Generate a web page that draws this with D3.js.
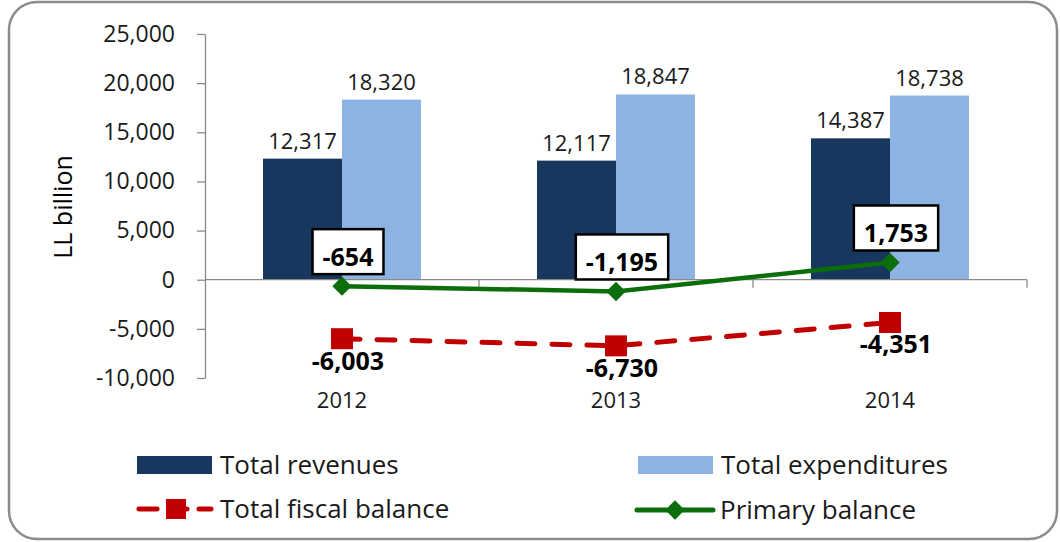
<!DOCTYPE html>
<html lang="en">
<head>
    <meta charset="UTF-8">
    <script src="https://d3js.org/d3.v7.min.js"></script>
    <style>
        body { margin: 0; background: #fff; font-family: 'Open Sans', sans-serif; }
        .axis path, .axis line { stroke: #8a8a8a; stroke-width: 1.3px; }
        .axis text { font-family: 'Open Sans'; font-size: 23px; fill: #1a1a1a; }
    </style>
    <title>Fiscal balance 2012-2014</title>
</head>
<body>
<div id="chart"></div>
<script>
    // data
    const years = ["2012", "2013", "2014"];
    const revenues = [12317, 12117, 14387];
    const expenditures = [18320, 18847, 18738];
    const fiscalBalance = [-6003, -6730, -4351];
    const primaryBalance = [-654, -1195, 1753];
    const yTicks = [-10000, -5000, 0, 5000, 10000, 15000, 20000, 25000];

    const barSeries = ["Total revenues", "Total expenditures"];
    const barColors = ["#17375E", "#8DB3E2"];
    const red = "#C00000", green = "#0B6E0B";

    const W = 1060, H = 542;
    const plot = {left: 205, right: 1027, top: 34, bottom: 378};

    const svg = d3.select("#chart").append("svg")
        .attr("width", W).attr("height", H);

    // rounded border
    svg.append("rect")
        .attr("x", 9).attr("y", 2).attr("width", 1048).attr("height", 537)
        .attr("rx", 28).attr("ry", 28)
        .attr("fill", "#fff").attr("stroke", "#8c8c8c").attr("stroke-width", 2.5);

    const x = d3.scaleBand().domain(years).range([plot.left, plot.right]);
    const groupW = 158;
    const x1 = d3.scaleBand().domain(barSeries).range([0, groupW]);
    const y = d3.scaleLinear().domain([-10000, 25000]).range([plot.bottom, plot.top]);

    const fmt = v => d3.format(",")(v).replace("\u2212", "-");

    // bars
    const barData = years.map((yr, i) => ({year: yr, values: [revenues[i], expenditures[i]]}));
    const groups = svg.append("g").selectAll("g")
        .data(barData).join("g")
        .attr("transform", d => "translate(" + (x(d.year) + x.bandwidth() / 2 - groupW / 2) + ",0)");

    groups.selectAll("rect")
        .data(d => d.values.map((v, j) => ({key: barSeries[j], v: v, c: barColors[j]})))
        .join("rect")
        .attr("x", d => x1(d.key))
        .attr("width", x1.bandwidth())
        .attr("y", d => y(d.v))
        .attr("height", d => y(0) - y(d.v))
        .attr("fill", d => d.c);

    groups.selectAll("text")
        .data(d => d.values.map((v, j) => ({key: barSeries[j], v: v})))
        .join("text")
        .attr("x", d => x1(d.key) + x1.bandwidth() / 2)
        .attr("y", d => y(d.v) - 10)
        .attr("text-anchor", "middle")
        .style("font-size", "22px")
        .style("fill", "#1a1a1a")
        .text(d => fmt(d.v));

    // y axis
    svg.append("g")
        .attr("class", "axis")
        .attr("transform", "translate(" + plot.left + ",0)")
        .call(d3.axisLeft(y).tickValues(yTicks).tickSize(8).tickSizeOuter(0).tickPadding(22).tickFormat(fmt));

    // x axis on zero line
    const xAxis = svg.append("g")
        .attr("class", "axis")
        .attr("transform", "translate(0," + y(0) + ")");
    xAxis.append("line")
        .attr("x1", plot.left).attr("x2", plot.right);
    xAxis.selectAll(".sep")
        .data(years).join("line")
        .attr("x1", d => x(d) + x.bandwidth()).attr("x2", d => x(d) + x.bandwidth())
        .attr("y1", 0).attr("y2", 8);

    // year labels
    svg.append("g").selectAll("text")
        .data(years).join("text")
        .attr("x", d => x(d) + x.bandwidth() / 2)
        .attr("y", 408)
        .attr("text-anchor", "middle")
        .style("font-size", "22px")
        .style("fill", "#1a1a1a")
        .text(d => d);

    // y axis title
    svg.append("text")
        .attr("transform", "translate(72,207) rotate(-90)")
        .attr("text-anchor", "middle")
        .style("font-size", "25px")
        .style("fill", "#000")
        .text("LL billion");

    const cx = d => x(d) + x.bandwidth() / 2;

    // total fiscal balance
    const fiscalPts = years.map((yr, i) => ({year: yr, v: fiscalBalance[i]}));
    svg.append("path")
        .datum(fiscalPts)
        .attr("fill", "none")
        .attr("stroke", red)
        .attr("stroke-width", 5)
        .attr("stroke-dasharray", "18,17")
        .attr("stroke-linecap", "round")
        .attr("d", d3.line().x(d => cx(d.year)).y(d => y(d.v)));
    svg.append("g").selectAll("rect")
        .data(fiscalPts).join("rect")
        .attr("x", d => cx(d.year) - 11).attr("y", d => y(d.v) - 10.5)
        .attr("width", 22).attr("height", 21)
        .attr("fill", red);
    svg.append("g").selectAll("text")
        .data(fiscalPts).join("text")
        .attr("x", d => cx(d.year) + 6)
        .attr("y", d => y(d.v) + 31)
        .attr("text-anchor", "middle")
        .style("font-size", "25px")
        .style("font-weight", "bold")
        .style("fill", "#000")
        .text(d => fmt(d.v));

    // primary balance
    const primaryPts = years.map((yr, i) => ({year: yr, v: primaryBalance[i]}));
    svg.append("path")
        .datum(primaryPts)
        .attr("fill", "none")
        .attr("stroke", green)
        .attr("stroke-width", 4.5)
        .attr("d", d3.line().x(d => cx(d.year)).y(d => y(d.v)));
    const diamond = d3.symbol().type(d3.symbolDiamond2).size(240);
    svg.append("g").selectAll("path")
        .data(primaryPts).join("path")
        .attr("transform", d => "translate(" + cx(d.year) + "," + y(d.v) + ")")
        .attr("d", diamond)
        .attr("fill", green);

    const pLabels = svg.append("g").selectAll("g")
        .data(primaryPts).join("g");
    pLabels.append("rect")
        .attr("fill", "#fff").attr("stroke", "#000").attr("stroke-width", 2.5);
    pLabels.append("text")
        .attr("x", d => cx(d.year) + 6)
        .attr("y", d => y(d.v) - 20)
        .attr("text-anchor", "middle")
        .style("font-size", "25px")
        .style("font-weight", "bold")
        .style("fill", "#000")
        .text(d => fmt(d.v));
    pLabels.each(function(d) {
        const g = d3.select(this);
        const w = g.select("text").node().getComputedTextLength();
        const base = y(d.v) - 20;
        g.select("rect")
            .attr("x", cx(d.year) + 6 - w / 2 - 10)
            .attr("y", base - 37)
            .attr("width", w + 20)
            .attr("height", 45);
    });

    // legend
    const legend = svg.append("g");
    const legRows = [
        {label: "Total revenues", type: "bar", c: barColors[0], x: 137, y: 465},
        {label: "Total expenditures", type: "bar", c: barColors[1], x: 638, y: 465},
        {label: "Total fiscal balance", type: "dash", c: red, x: 137, y: 509},
        {label: "Primary balance", type: "line", c: green, x: 637, y: 510}
    ];
    legRows.forEach(r => {
        if (r.type === "bar") {
            legend.append("rect")
                .attr("x", r.x).attr("y", r.y - 9).attr("width", 75).attr("height", 18)
                .attr("fill", r.c);
        } else if (r.type === "dash") {
            legend.append("line")
                .attr("x1", r.x + 2).attr("x2", r.x + 74).attr("y1", r.y).attr("y2", r.y)
                .attr("stroke", r.c).attr("stroke-width", 5)
                .attr("stroke-dasharray", "18,12").attr("stroke-linecap", "round");
            legend.append("rect")
                .attr("x", r.x + 29).attr("y", r.y - 10).attr("width", 20).attr("height", 20)
                .attr("fill", r.c);
        } else {
            legend.append("line")
                .attr("x1", r.x).attr("x2", r.x + 76).attr("y1", r.y).attr("y2", r.y)
                .attr("stroke", r.c).attr("stroke-width", 5).attr("stroke-linecap", "round");
            legend.append("path")
                .attr("transform", "translate(" + (r.x + 38) + "," + r.y + ")")
                .attr("d", diamond)
                .attr("fill", r.c);
        }
        legend.append("text")
            .attr("x", r.x + 83)
            .attr("y", r.y + 9)
            .style("font-size", "26px")
            .style("fill", "#1a1a1a")
            .text(r.label);
    });
</script>
</body>
</html>
